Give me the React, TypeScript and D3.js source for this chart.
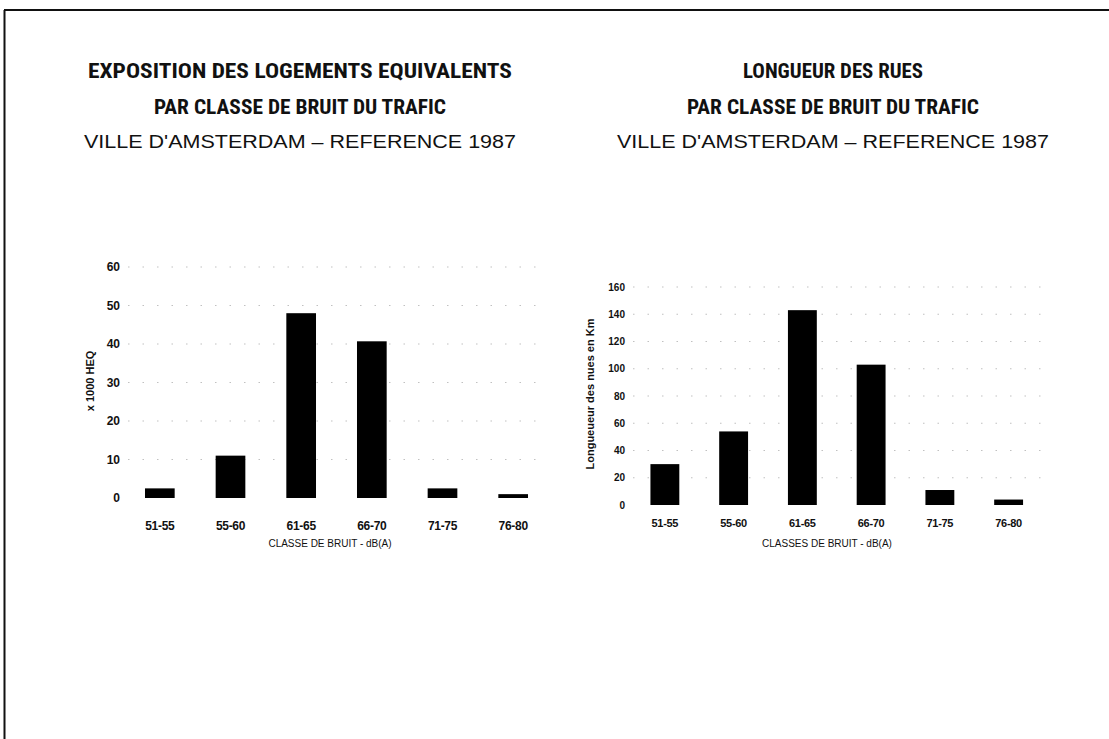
import React from "react";
import * as d3 from "d3";

const categories = ["51-55", "55-60", "61-65", "66-70", "71-75", "76-80"];
const logementsValues = [2.5, 11, 48, 40.7, 2.5, 1];
const ruesValues = [30, 54, 143, 103, 11, 4];
const leftTicks = [0, 10, 20, 30, 40, 50, 60];
const rightTicks = [0, 20, 40, 60, 80, 100, 120, 140, 160];

const W = 1109;
const H = 739;
const titleFont = "'Liberation Sans Narrow', 'Roboto Condensed', 'DejaVu Sans Condensed', Arial, sans-serif";
const axisFont = "'Liberation Sans', Arial, sans-serif";

type PanelProps = {
  values: number[];
  ticks: number[];
  yMax: number;
  xRange: [number, number];
  yRange: [number, number];
  tickX: number;
  tickSize: number;
  catSize: number;
  catY: number;
  yTitle: string;
  yTitleX: number;
  yTitleY: number;
  xTitle: string;
  xTitleX: number;
  xTitleY: number;
};

function Panel(p: PanelProps) {
  const x = d3.scaleBand<string>().domain(categories).range(p.xRange).paddingInner(0.58).paddingOuter(0.29);
  const y = d3.scaleLinear().domain([0, p.yMax]).range(p.yRange);
  return (
    <g>
      {p.ticks.map((t) => (
        <g key={t}>
          {t > 0 && (
            <line x1={p.tickX + 8} x2={p.xRange[1]} y1={y(t)} y2={y(t)} stroke="#999" strokeWidth={1} strokeDasharray="1.5,13" opacity={0.6} />
          )}
          <text x={p.tickX} y={y(t)} dy="0.35em" textAnchor="end" fontFamily={axisFont} fontWeight="bold" fontSize={p.tickSize} fill="#111">
            {t}
          </text>
        </g>
      ))}
      {categories.map((c, i) => (
        <g key={c}>
          <rect x={x(c)} y={y(p.values[i])} width={x.bandwidth()} height={y(0) - y(p.values[i])} fill="#000" />
          <text x={(x(c) as number) + x.bandwidth() / 2} y={p.catY} textAnchor="middle" fontFamily={axisFont} fontWeight="bold" fontSize={p.catSize} fill="#111" letterSpacing={-0.3}>
            {c}
          </text>
        </g>
      ))}
      <text transform={`translate(${p.yTitleX},${p.yTitleY}) rotate(-90)`} textAnchor="middle" fontFamily={axisFont} fontWeight="bold" fontSize={11} fill="#111">
        {p.yTitle}
      </text>
      <text x={p.xTitleX} y={p.xTitleY} textAnchor="middle" fontFamily={axisFont} fontSize={10} fill="#111">
        {p.xTitle}
      </text>
    </g>
  );
}

function Titles({ cx, l1, l2, l3, w1, w2 }: { cx: number; l1: string; l2: string; l3: string; w1: number; w2: number }) {
  return (
    <g fill="#111">
      <text x={cx} y={78} textAnchor="middle" fontFamily={titleFont} fontWeight="bold" fontSize={21} textLength={w1} lengthAdjust="spacingAndGlyphs">{l1}</text>
      <text x={cx} y={114} textAnchor="middle" fontFamily={titleFont} fontWeight="bold" fontSize={21} textLength={w2} lengthAdjust="spacingAndGlyphs">{l2}</text>
      <text x={cx} y={148} textAnchor="middle" fontFamily={axisFont} fontSize={18} textLength={432} lengthAdjust="spacingAndGlyphs">{l3}</text>
    </g>
  );
}

export default function App() {
  return (
    <svg width={W} height={H} style={{ position: "absolute", left: 0, top: 0, background: "#fff" }}>
      <rect x={0} y={0} width={W} height={H} fill="#fff" />
      <line x1={4} x2={W} y1={10} y2={10} stroke="#111" strokeWidth={2} />
      <line x1={4.5} x2={4.5} y1={10} y2={H} stroke="#111" strokeWidth={2} />
      <Titles cx={300} l1="EXPOSITION DES LOGEMENTS EQUIVALENTS" l2="PAR CLASSE DE BRUIT DU TRAFIC" l3="VILLE D'AMSTERDAM – REFERENCE 1987" w1={424} w2={292} />
      <Titles cx={833} l1="LONGUEUR DES RUES" l2="PAR CLASSE DE BRUIT DU TRAFIC" l3="VILLE D'AMSTERDAM – REFERENCE 1987" w1={180} w2={292} />
      <Panel
        values={logementsValues}
        ticks={leftTicks}
        yMax={60}
        xRange={[124.5, 548.5]}
        yRange={[498, 267]}
        tickX={120}
        tickSize={12}
        catSize={12}
        catY={530}
        yTitle="x 1000 HEQ"
        yTitleX={94}
        yTitleY={381}
        xTitle="CLASSE DE BRUIT - dB(A)"
        xTitleX={330}
        xTitleY={547}
      />
      <Panel
        values={ruesValues}
        ticks={rightTicks}
        yMax={160}
        xRange={[630.5, 1043]}
        yRange={[505, 287]}
        tickX={625}
        tickSize={10}
        catSize={11}
        catY={527}
        yTitle="Longueueur des nues en Km"
        yTitleX={594}
        yTitleY={394}
        xTitle="CLASSES DE BRUIT - dB(A)"
        xTitleX={827}
        xTitleY={547}
      />
    </svg>
  );
}
